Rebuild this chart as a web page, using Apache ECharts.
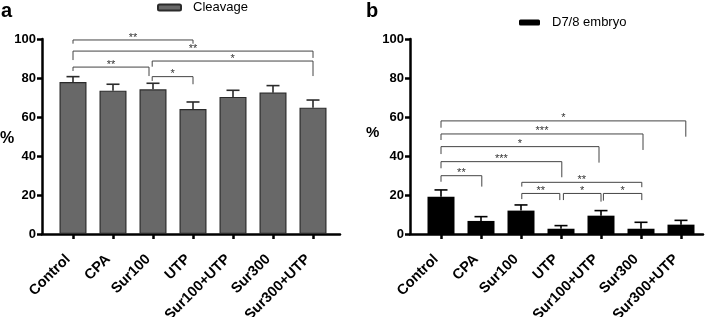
<!DOCTYPE html>
<html>
<head>
<meta charset="utf-8">
<script src="https://cdn.jsdelivr.net/npm/echarts@6/dist/echarts.min.js"></script>
<style>
html,body{margin:0;padding:0;background:#fff}
#main{width:709px;height:317px}
</style>
</head>
<body>
<div id="main"></div>
<script>
var categories = ['Control', 'CPA', 'Sur100', 'UTP', 'Sur100+UTP', 'Sur300', 'Sur300+UTP'];
var catIndex = [0, 1, 2, 3, 4, 5, 6];
var yTicks = [0, 20, 40, 60, 80, 100];

// panel a - cleavage (%), mean and upper error
var cleavageMean = [77.9, 73.5, 74.2, 64.1, 70.3, 72.5, 64.8];
var cleavageErr = [2.8, 3.3, 3.1, 3.6, 3.4, 3.6, 3.9];
// panel b - D7/8 embryo (%)
var embryoMean = [19.1, 6.7, 12.0, 2.7, 9.4, 2.7, 4.8];
var embryoErr = [3.5, 2.2, 2.9, 1.6, 2.6, 3.3, 2.2];

// significance brackets: [from, to, level, left drop end, right drop end]
var cleavageSig = [
    [0, 3, 99.5, 97.6, 97.6],
    [0, 6, 93.8, 89.2, 90.3],
    [0, 1.9, 85.6, 83.6, 81.0],
    [1.98, 6, 88.7, 85.8, 81.0],
    [1.98, 3, 80.7, 78.5, 76.8]
];
var cleavageSigLabel = ['**', '**', '**', '*', '*'];

var embryoSig = [
    [0, 6.12, 58.0, 54.5, 49.9],
    [0, 5.05, 51.3, 48.2, 43.1],
    [0, 3.95, 44.8, 41.0, 36.6],
    [0, 3.02, 37.1, 33.7, 29.1],
    [0, 1.02, 29.9, 26.8, 24.3],
    [2.02, 5.02, 26.5, 24.3, 24.0],
    [2.02, 2.97, 20.8, 17.9, 17.4],
    [3.06, 4.0, 20.8, 17.4, 16.6],
    [4.06, 5.02, 20.8, 17.1, 17.4]
];
var embryoSigLabel = ['*', '***', '*', '***', '**', '**', '**', '*', '*'];

var FONT = 'Liberation Sans, Arial, sans-serif';

function barData(means) {
    var out = [];
    for (var i = 0; i < means.length; i++) {
        out.push([catIndex[i], means[i]]);
    }
    return out;
}

function errData(means, errs) {
    var out = [];
    for (var i = 0; i < means.length; i++) {
        out.push([catIndex[i], means[i], errs[i]]);
    }
    return out;
}

//误差线 (只画上半部分)
function renderErr(color) {
    return function (params, api) {
        var x = api.value(0);
        var base = api.coord([x, api.value(1)]);
        var top = api.coord([x, api.value(1) + api.value(2)]);
        var half = 6.5;
        var style = {stroke: color, lineWidth: 1.6, fill: null};
        return {
            type: 'group',
            children: [
                {type: 'line', shape: {x1: base[0], y1: base[1], x2: top[0], y2: top[1]}, style: style},
                {type: 'line', shape: {x1: top[0] - half, y1: top[1], x2: top[0] + half, y2: top[1]}, style: style}
            ]
        };
    };
}

//显著性标记
function renderSig(labels) {
    return function (params, api) {
        var x1 = api.value(0), x2 = api.value(1), y = api.value(2);
        var pl = api.coord([x1, api.value(3)]);
        var p1 = api.coord([x1, y]);
        var p2 = api.coord([x2, y]);
        var pr = api.coord([x2, api.value(4)]);
        return {
            type: 'group',
            children: [
                {
                    type: 'polyline',
                    shape: {points: [pl, p1, p2, pr]},
                    style: {stroke: '#444', lineWidth: 1, fill: null}
                },
                {
                    type: 'text',
                    x: (p1[0] + p2[0]) / 2,
                    y: p1[1] + 3,
                    style: {
                        text: labels[params.dataIndex],
                        fill: '#333',
                        font: '11px ' + FONT,
                        align: 'center',
                        verticalAlign: 'bottom'
                    }
                }
            ]
        };
    };
}

function makeXAxis(gridIndex, max) {
    return {
        type: 'value',
        gridIndex: gridIndex,
        min: -0.775,
        max: max,
        splitLine: {show: false},
        axisLine: {show: true, onZero: false, lineStyle: {color: '#000', width: 2.5}},
        axisTick: {show: true, customValues: catIndex, length: 5, lineStyle: {color: '#000', width: 2.5}},
        axisLabel: {
            customValues: catIndex,
            rotate: 45,
            margin: 18,
            padding: [0, 7, 0, 0],
            fontFamily: FONT,
            fontWeight: 'bold',
            fontSize: 14.5,
            color: '#000',
            formatter: function (v) { return categories[Math.round(v)]; }
        }
    };
}

function makeYAxis(gridIndex) {
    return {
        type: 'value',
        gridIndex: gridIndex,
        min: yTicks[0],
        max: yTicks[yTicks.length - 1],
        interval: 20,
        splitLine: {show: false},
        axisLine: {show: true, onZero: false, lineStyle: {color: '#000', width: 2.5}},
        axisTick: {show: true, length: 5, lineStyle: {color: '#000', width: 2.5}},
        axisLabel: {margin: 6, fontFamily: FONT, fontWeight: 'bold', fontSize: 13, color: '#000'}
    };
}

var option = {
    animation: false,
    backgroundColor: '#fff',
    legend: [
        {
            data: ['Cleavage'],
            left: 152,
            top: -4,
            itemWidth: 23,
            itemHeight: 6,
            itemGap: 0,
            textStyle: {fontFamily: FONT, fontSize: 13, color: '#000', padding: [0, 0, 0, 7]}
        },
        {
            data: ['D7/8 embryo'],
            left: 514,
            top: 11,
            itemWidth: 21,
            itemHeight: 6,
            itemGap: 0,
            textStyle: {fontFamily: FONT, fontSize: 13, color: '#000', padding: [0, 0, 0, 7]}
        }
    ],
    grid: [
        {left: 42, top: 39, width: 298, height: 195, outerBoundsMode: 'none'},
        {left: 410, top: 39, width: 293, height: 195, outerBoundsMode: 'none'}
    ],
    xAxis: [makeXAxis(0, 6.675), makeXAxis(1, 6.55)],
    yAxis: [makeYAxis(0), makeYAxis(1)],
    graphic: [
        {type: 'text', left: 1, top: 1, style: {text: 'a', font: 'bold 20px ' + FONT, fill: '#000'}},
        {type: 'text', left: 366, top: 1, style: {text: 'b', font: 'bold 20px ' + FONT, fill: '#000'}},
        {type: 'text', left: 0, top: 131, style: {text: '%', font: 'bold 16px ' + FONT, fill: '#000'}},
        {type: 'text', left: 366, top: 125, style: {text: '%', font: 'bold 15px ' + FONT, fill: '#000'}}
    ],
    series: [
        {
            name: 'Cleavage',
            type: 'bar',
            xAxisIndex: 0,
            yAxisIndex: 0,
            barWidth: 27,
            data: barData(cleavageMean),
            itemStyle: {color: '#686868', borderColor: '#2b2b2b', borderWidth: 1.2}
        },
        {
            type: 'custom',
            xAxisIndex: 0,
            yAxisIndex: 0,
            renderItem: renderErr('#2b2b2b'),
            data: errData(cleavageMean, cleavageErr),
            z: 3
        },
        {
            type: 'custom',
            xAxisIndex: 0,
            yAxisIndex: 0,
            renderItem: renderSig(cleavageSigLabel),
            data: cleavageSig,
            z: 4
        },
        {
            name: 'D7/8 embryo',
            type: 'bar',
            xAxisIndex: 1,
            yAxisIndex: 1,
            barWidth: 27,
            data: barData(embryoMean),
            itemStyle: {color: '#000'}
        },
        {
            type: 'custom',
            xAxisIndex: 1,
            yAxisIndex: 1,
            renderItem: renderErr('#000'),
            data: errData(embryoMean, embryoErr),
            z: 3
        },
        {
            type: 'custom',
            xAxisIndex: 1,
            yAxisIndex: 1,
            renderItem: renderSig(embryoSigLabel),
            data: embryoSig,
            z: 4
        }
    ]
};

var myChart = echarts.init(document.getElementById('main'));
myChart.setOption(option);
</script>
</body>
</html>
